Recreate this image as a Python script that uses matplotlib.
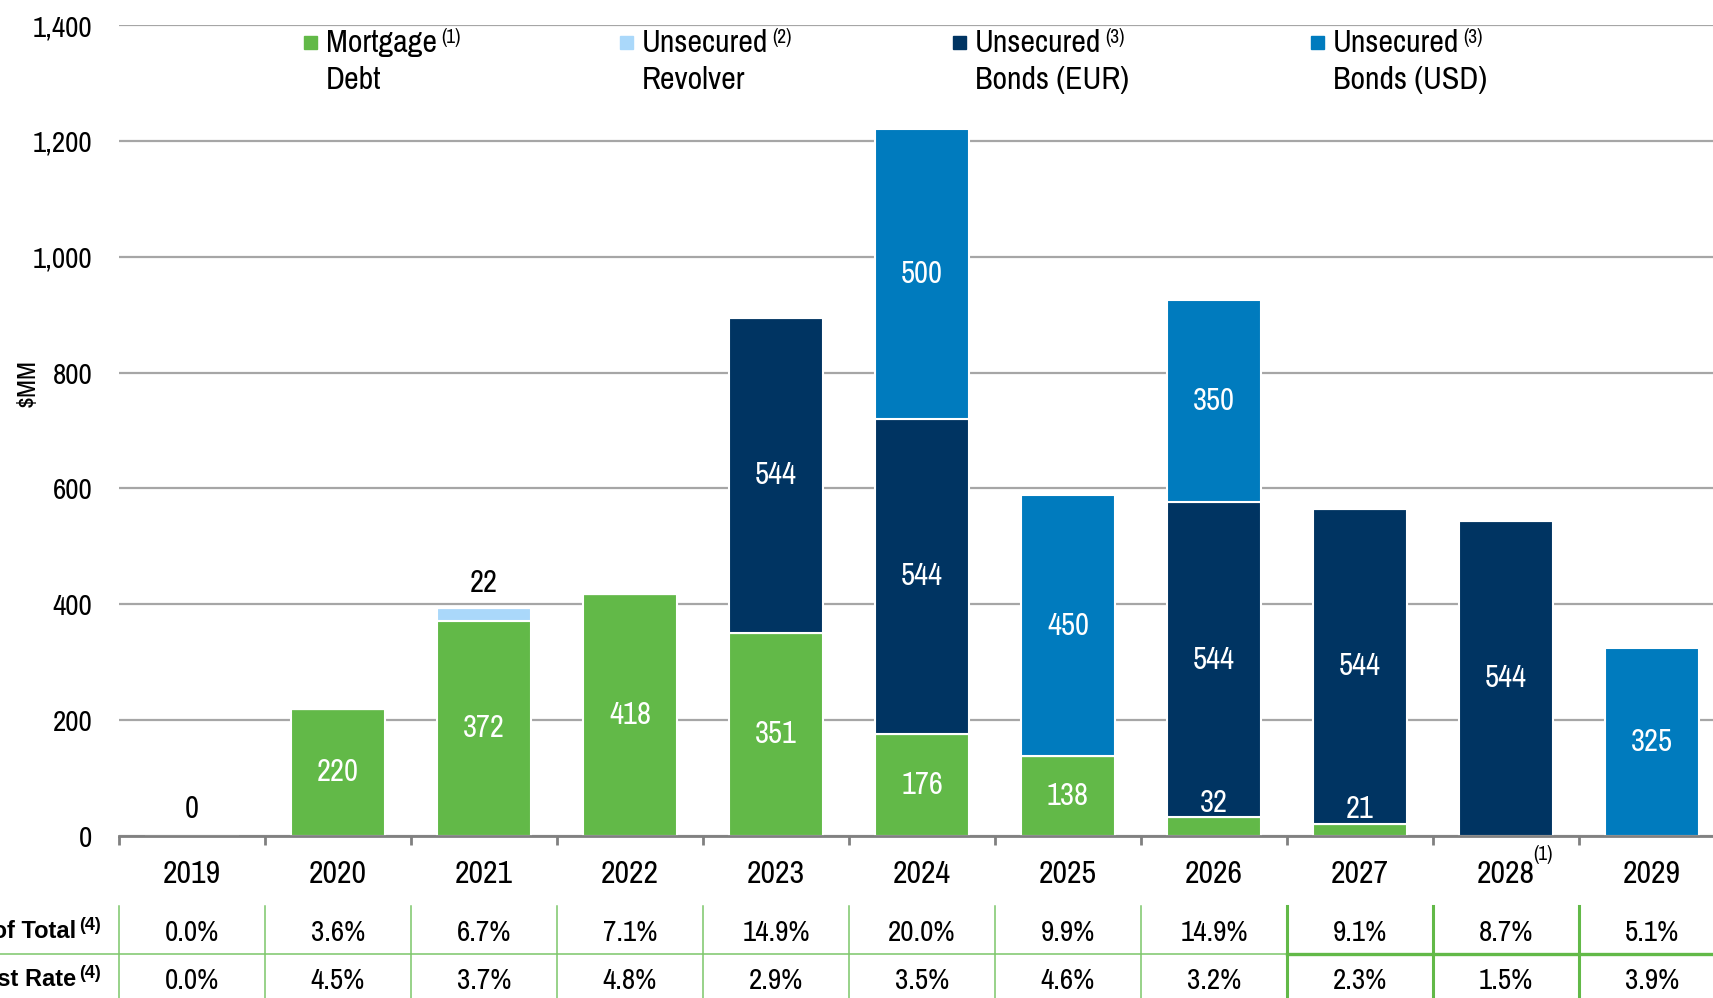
import matplotlib
matplotlib.use('Agg')
import matplotlib.pyplot as plt
import matplotlib.transforms as mtransforms

plt.rcParams['font.family'] = ['Archivo Narrow', 'Liberation Sans', 'DejaVu Sans']
bold_family = ['Liberation Sans', 'DejaVu Sans']

years = ['2019', '2020', '2021', '2022', '2023', '2024', '2025', '2026', '2027', '2028', '2029']
mortgage = [0, 220, 372, 418, 351, 176, 138, 32, 21, 0, 0]
revolver = [0, 0, 22, 0, 0, 0, 0, 0, 0, 0, 0]
bonds_eur = [0, 0, 0, 0, 544, 544, 0, 544, 544, 544, 0]
bonds_usd = [0, 0, 0, 0, 0, 500, 450, 350, 0, 0, 325]
pct_total = ['0.0%', '3.6%', '6.7%', '7.1%', '14.9%', '20.0%', '9.9%', '14.9%', '9.1%', '8.7%', '5.1%']
int_rate = ['0.0%', '4.5%', '3.7%', '4.8%', '2.9%', '3.5%', '4.6%', '3.2%', '2.3%', '1.5%', '3.9%']

green = '#62B948'
light_blue = '#AAD8FA'
navy = '#003462'
mid_blue = '#007BBE'

fig = plt.figure(figsize=(17.13, 9.98), dpi=100)
ax = fig.add_axes([119/1713, 162/998, 11*146/1713, 811/998])

x = list(range(len(years)))
series = [(mortgage, green), (revolver, light_blue), (bonds_eur, navy), (bonds_usd, mid_blue)]
bottom = [0]*len(years)
for vals, col in series:
    ax.bar(x, vals, 0.65, bottom=bottom, color=col, edgecolor='white', linewidth=1.5, zorder=3)
    for i, v in enumerate(vals):
        if v <= 0:
            continue
        if col == light_blue:
            ax.text(i, bottom[i] + v + 43, str(v), ha='center', va='center', fontsize=22, color='black', zorder=4)
        elif v < 60:
            ax.text(i, bottom[i] + v + 25, str(v), ha='center', va='center', fontsize=22, color='white', zorder=4)
        else:
            ax.text(i, bottom[i] + v/2, str(v), ha='center', va='center', fontsize=22, color='white', zorder=4)
    bottom = [b + v for b, v in zip(bottom, vals)]

# zero year label
for i, t in enumerate(bottom):
    if t == 0:
        ax.text(i, 47, '0', ha='center', va='center', fontsize=22, color='black')

ax.set_xlim(-0.5, 10.5)
ax.set_ylim(0, 1400)
ax.set_yticks(range(0, 1401, 200))
ax.set_yticklabels(['0', '200', '400', '600', '800', '1,000', '1,200', '1,400'], fontsize=21)
ax.tick_params(axis='y', length=0, pad=19)
ax.yaxis.grid(True, color='#A6A6A6', linewidth=1.6, zorder=0)
ax.set_axisbelow(True)
for s in ['top', 'right', 'left']:
    ax.spines[s].set_visible(False)
ax.spines['bottom'].set_color('#808080')
ax.spines['bottom'].set_linewidth(2)
ax.spines['bottom'].set_zorder(5)

ax.set_xticks(x)
ax.set_xticklabels(years, fontsize=23)
ax.tick_params(axis='x', which='major', length=0, pad=17)
ax.set_xticks([i - 0.5 for i in range(12)], minor=True)
ax.tick_params(axis='x', which='minor', length=6.5, width=2, color='#808080', direction='out')
ax.text(9.19, -0.0234, '(1)', transform=mtransforms.blended_transform_factory(ax.transData, ax.transAxes),
        ha='left', va='center', fontsize=14)

fig.text(27/1713, 1 - 383/998, '$MM', rotation=90, ha='center', va='center', fontsize=19)

# table below the axis
tr = mtransforms.blended_transform_factory(ax.transData, ax.transAxes)
y_top, y_bot = -0.0863, -0.21
y_row1, y_row2, y_div = -0.1184, -0.1776, -0.1455
for i in range(11):
    b = i - 0.5
    thick = b >= 7.5
    ax.plot([b, b], [y_top, y_bot], transform=tr, clip_on=False,
            color=green if thick else '#7CC66A', linewidth=2.2 if thick else 1.1)
    ax.text(i, y_row1, pct_total[i], transform=tr, ha='center', va='center', fontsize=21)
    ax.text(i, y_row2, int_rate[i], transform=tr, ha='center', va='center', fontsize=21)
ax.plot([-1.4, 7.5], [y_div, y_div], transform=tr, clip_on=False, color='#7CC66A', linewidth=1.1)
ax.plot([7.5, 10.6], [y_div, y_div], transform=tr, clip_on=False, color=green, linewidth=2.4)

for label, yy in [('% of Total', 1 - 932/998), ('Interest Rate', 1 - 980/998)]:
    t = fig.text(76/1713, yy, label, ha='right', va='center', fontsize=17, fontweight='bold',
                 family=bold_family)
    ax.annotate('(4)', xy=(1, 1.15), xycoords=t, xytext=(2, 0), textcoords='offset points',
                ha='left', va='top', fontsize=13, fontweight='bold',
                family=bold_family, annotation_clip=False)

# legend drawn at the top
legend_items = [('Mortgage', 'Debt', '(1)', green, 304),
                ('Unsecured', 'Revolver', '(2)', light_blue, 620),
                ('Unsecured', 'Bonds (EUR)', '(3)', navy, 953),
                ('Unsecured', 'Bonds (USD)', '(3)', mid_blue, 1311)]
for l1, l2, sup, col, px in legend_items:
    fig.patches.append(plt.Rectangle((px/1713, 1 - 49/998), 13/1713, 13/998,
                                     transform=fig.transFigure, color=col, figure=fig))
    t1 = fig.text((px + 22)/1713, 1 - 43/998, l1, ha='left', va='center', fontsize=23)
    fig.text((px + 22)/1713, 1 - 80/998, l2, ha='left', va='center', fontsize=23)
    ax.annotate(sup, xy=(1, 1.02), xycoords=t1, xytext=(3, 0), textcoords='offset points',
                ha='left', va='top', fontsize=14, annotation_clip=False)

fig.savefig('out.png', dpi=100)
